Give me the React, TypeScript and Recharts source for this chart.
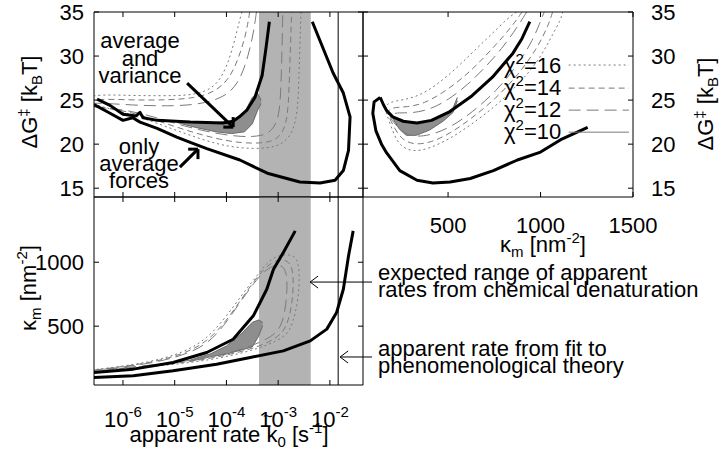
import React from 'react';
import { ComposedChart, Line, Area, XAxis, YAxis, ReferenceArea, ReferenceLine } from 'recharts';

const FONT = '"Liberation Sans", Arimo, Arial, Helvetica, sans-serif';
const W = 720;
const H = 454;

// ---------- axes / ticks ----------
const rateDomain = [-6.56, -1.36]; // log10 of apparent rate
const rateTicks = [-6, -5, -4, -3, -2];
const dGDomain = [14, 35];
const dGTicks = [15, 20, 25, 30, 35];
const kappaDomain = [40, 1500];
const kappaTicks = [500, 1000, 1500];
const kappaLeftDomain = [40, 1510];
const kappaLeftTicks = [500, 1000];
const denatBand = [-3.37, -2.37];
const fitRate = -1.84;

// ---------- top-left: log rate vs dG ----------
const tlAvgVar = [[-6.5, 25.1], [-6.25, 24.4], [-6.0, 23.4], [-5.75, 23.2], [-5.67, 23.6], [-5.61, 23.0], [-5.34, 22.7], [-4.7, 22.5], [-4.07, 22.4], [-3.87, 22.6], [-3.75, 23.1], [-3.6, 23.9], [-3.45, 25.3], [-3.31, 27.8], [-3.24, 30.7], [-3.17, 33.9]];
const tlOnlyAvg = [[-6.56, 24.5], [-6.25, 23.5], [-6.0, 22.7], [-5.81, 23.0], [-5.67, 22.5], [-5.34, 21.8], [-4.96, 20.8], [-4.7, 20.2], [-4.38, 19.5], [-3.74, 18.2], [-3.21, 16.7], [-2.58, 15.7], [-2.19, 15.6], [-1.9, 15.9], [-1.74, 17.0], [-1.64, 19.3], [-1.61, 23.1], [-1.74, 25.8], [-1.94, 28.1], [-2.14, 31.0], [-2.34, 33.9]];
const tlChi16 = [[-3.7, 35], [-3.75, 34.0], [-3.85, 31.5], [-3.98, 29.0], [-4.15, 27.0], [-4.4, 25.9], [-4.8, 25.5], [-5.2, 25.5], [-5.8, 25.5], [-6.7, 25.7], [-6.7, 24.6], [-6.0, 23.7], [-5.4, 22.5], [-4.8, 21.2], [-4.2, 20.0], [-3.7, 19.5], [-3.2, 19.5], [-2.9, 20.0], [-2.7, 21.5], [-2.62, 24.0], [-2.6, 27.5], [-2.58, 31.0], [-2.56, 35]];
const tlChi14 = [[-3.55, 35], [-3.62, 32.5], [-3.75, 30.0], [-3.93, 27.5], [-4.2, 26.0], [-4.6, 25.2], [-5.2, 25.0], [-5.8, 25.0], [-6.7, 25.2], [-6.7, 24.3], [-6.0, 23.9], [-5.4, 22.8], [-4.8, 21.6], [-4.2, 20.6], [-3.7, 20.1], [-3.25, 20.1], [-3.0, 20.6], [-2.85, 22.0], [-2.8, 24.5], [-2.78, 28.0], [-2.76, 31.5], [-2.74, 35]];
const tlChi12 = [[-3.42, 35], [-3.48, 32.5], [-3.58, 30.0], [-3.72, 27.5], [-3.95, 25.6], [-4.4, 24.6], [-5.0, 24.3], [-5.8, 24.4], [-6.7, 24.8], [-6.7, 24.2], [-6.0, 24.0], [-5.4, 23.1], [-4.8, 22.0], [-4.2, 21.2], [-3.7, 20.8], [-3.3, 20.9], [-3.1, 21.6], [-2.98, 23.2], [-2.95, 26.0], [-2.93, 29.5], [-2.91, 35]];
const tlChi10 = [[-4.95, 22.45, 22.6], [-4.6, 21.9, 22.5], [-4.2, 21.4, 22.45], [-3.9, 21.2, 22.6], [-3.65, 21.4, 23.6], [-3.5, 22.3, 25.3], [-3.4, 23.8, 25.8], [-3.33, 24.6, 25.0]];

// ---------- top-right: kappa vs dG ----------
const trAvgVar = [[133, 25.3], [150, 24.5], [168, 23.8], [201, 23.1], [255, 22.6], [332, 22.4], [410, 22.7], [510, 23.7], [630, 25.5], [740, 27.6], [850, 30.3], [900, 32.0], [942, 33.9]];
const trOnlyAvg = [[133, 25.3], [100, 24.8], [93, 23.5], [110, 21.5], [140, 20.0], [168, 19.0], [239, 17.0], [332, 15.9], [418, 15.6], [511, 15.7], [620, 16.1], [745, 17.0], [875, 18.2], [1000, 19.1], [1109, 20.5], [1255, 21.9]];
const trChi16 = [[870, 35], [817, 34.2], [727, 32.3], [636, 30.5], [545, 28.6], [437, 26.7], [346, 25.5], [255, 25.0], [183, 24.8], [158, 24.2], [165, 23.6], [201, 21.4], [237, 19.8], [310, 19.1], [400, 19.5], [509, 20.6], [618, 22.1], [763, 24.4], [890, 27.0], [998, 29.7], [1071, 32.7], [1107, 34.0], [1120, 35]];
const trChi14 = [[900, 35], [850, 33.5], [760, 31.3], [670, 29.3], [580, 27.5], [470, 25.8], [370, 24.6], [280, 24.2], [200, 24.2], [170, 23.7], [178, 23.2], [210, 21.8], [250, 20.5], [320, 19.9], [410, 20.2], [510, 21.2], [620, 22.8], [760, 25.2], [880, 27.9], [980, 30.8], [1045, 33.6], [1065, 35]];
const trChi12 = [[925, 35], [875, 33.3], [790, 30.8], [700, 28.7], [610, 26.8], [500, 25.0], [400, 23.9], [300, 23.5], [220, 23.6], [183, 23.3], [190, 22.9], [220, 22.1], [265, 21.2], [330, 20.8], [420, 21.1], [520, 22.0], [630, 23.6], [760, 26.0], [870, 28.8], [960, 31.8], [1010, 34.5], [1020, 35]];
const trChi10 = [[201, 22.9, 23.1], [237, 21.7, 22.9], [274, 21.0, 22.6], [328, 21.0, 22.4], [400, 21.6, 22.6], [473, 22.6, 23.2], [527, 23.6, 24.1], [550, 24.9, 25.3]];

// ---------- bottom-left: log rate vs kappa ----------
const blAvgVar = [[-6.56, 138], [-5.8, 164], [-5.03, 216], [-4.38, 294], [-3.87, 398], [-3.48, 581], [-3.22, 789], [-3.09, 945], [-2.9, 1076], [-2.67, 1245]];
const blOnlyAvg = [[-6.56, 99], [-5.8, 112], [-5.03, 151], [-4.19, 203], [-3.54, 255], [-2.9, 307], [-2.38, 385], [-2.06, 477], [-1.87, 607], [-1.74, 789], [-1.64, 1049], [-1.55, 1245]];
const blChi16 = [[-6.7, 155], [-6.44, 164], [-5.48, 216], [-4.83, 294], [-4.38, 398], [-3.99, 581], [-3.67, 763], [-3.41, 893], [-3.22, 997], [-3.03, 1049], [-2.83, 1062], [-2.64, 1049], [-2.58, 919], [-2.61, 711], [-2.71, 529], [-2.83, 424], [-3.22, 346], [-3.87, 268], [-4.83, 203], [-6.44, 151], [-6.7, 145]];
const blChi14 = [[-6.7, 152], [-6.44, 162], [-5.48, 210], [-4.83, 282], [-4.38, 375], [-4.0, 540], [-3.7, 720], [-3.45, 860], [-3.25, 960], [-3.05, 1015], [-2.88, 1020], [-2.75, 990], [-2.7, 880], [-2.72, 700], [-2.8, 540], [-2.92, 440], [-3.22, 360], [-3.87, 280], [-4.83, 210], [-6.44, 155], [-6.7, 148]];
const blChi12 = [[-6.7, 150], [-6.44, 160], [-5.48, 205], [-4.83, 272], [-4.38, 355], [-4.05, 500], [-3.75, 680], [-3.5, 820], [-3.3, 920], [-3.1, 975], [-2.95, 980], [-2.85, 940], [-2.82, 830], [-2.85, 660], [-2.92, 520], [-3.05, 440], [-3.3, 380], [-3.87, 292], [-4.83, 218], [-6.44, 158], [-6.7, 152]];
const blChi10 = [[-4.7, 225, 235], [-4.3, 262, 285], [-4.0, 282, 345], [-3.7, 315, 445], [-3.5, 338, 530], [-3.38, 420, 548], [-3.3, 505, 530]];

// ---------- annotations (data coordinates) ----------
const arrowAvgVar = [[-4.76, 26.93], [-3.87, 21.93]];
const arrowAvgVarHead = [[-4.06, 21.93], [-3.87, 23.07]];
const arrowOnlyAvg = [[-4.9, 17.39], [-4.55, 19.43]];
const arrowOnlyAvgHead = [[-4.74, 19.43], [-4.55, 18.3]];
const arrowDenat = [[-2.383, 845], [-1.184, 845]];
const arrowDenatHead = [[-2.228, 892], [-2.228, 798]];
const arrowFit = [[-1.803, 259], [-1.184, 259]];
const arrowFitHead = [[-1.648, 306], [-1.648, 212]];
const chiLevels = ['16', '14', '12', '10'];
const legendKappa = [1152, 1478];
const legendDG = [28.98, 26.36, 23.86, 21.36];
const chiDash = ['2 3', '6 4', '12 6', ''];

const pts = (a: number[][]) => a.map(([x, y]) => ({ x, y }));
const rng = (a: number[][]) => a.map(([x, lo, hi]) => ({ x, r: [lo, hi] }));
const blank = () => '';

const ax = {
  type: 'number' as const,
  allowDataOverflow: true,
  axisLine: { stroke: '#000', strokeWidth: 1 },
  tickLine: { stroke: '#000', strokeWidth: 1 },
  tickSize: -5,
  interval: 0 as const,
};
const tickStyle = { fontSize: 22, fill: '#000', fontFamily: FONT };

const PowTick = (props: any) => {
  const { x, y, payload } = props;
  return (
    <text x={x} y={y + 42} textAnchor="middle" fontFamily={FONT} fontSize={22} fill="#000">
      10<tspan dy={-10} fontSize={15}>{String(payload.value)}</tspan>
    </text>
  );
};

const thick = (data: number[][], key: string, xId: string, yId: string) => (
  <Line key={key} data={pts(data)} dataKey="y" xAxisId={xId} yAxisId={yId} stroke="#000" strokeWidth={3}
    dot={false} activeDot={false} isAnimationActive={false} type="linear" strokeLinejoin="round" />
);
const contour = (data: number[][], key: string, dash: string, xId: string, yId: string) => (
  <Line key={key} data={pts(data)} dataKey="y" xAxisId={xId} yAxisId={yId} stroke="#7a7a7a" strokeWidth={1}
    strokeDasharray={dash} dot={false} activeDot={false} isAnimationActive={false} type="basis" />
);
const blob = (data: number[][], key: string, xId: string, yId: string) => (
  <Area key={key} data={rng(data)} dataKey="r" xAxisId={xId} yAxisId={yId} fill="#8e8e8e" fillOpacity={1}
    stroke="#6a6a6a" strokeWidth={1} dot={false} activeDot={false} isAnimationActive={false} type="linear" />
);
const seg = (a: number[][], key: string, xId: string, yId: string, w: number) => (
  <ReferenceLine key={key} xAxisId={xId} yAxisId={yId} segment={[{ x: a[0][0], y: a[0][1] }, { x: a[1][0], y: a[1][1] }]}
    stroke="#000" strokeWidth={w} ifOverflow="visible" />
);
const head = (tip: number[], h: number[][], key: string, xId: string, yId: string, w: number) => [
  seg([tip, h[0]], key + 'a', xId, yId, w),
  seg([tip, h[1]], key + 'b', xId, yId, w),
];

const layer: React.CSSProperties = { position: 'absolute', left: 0, top: 0 };

// plot rectangles (axes are 1px wide/high, so margins are reduced by 1)
const mTL = { top: 11, right: 356, bottom: 256, left: 93 };
const mTR = { top: 11, right: 86, bottom: 256, left: 362 };
const mBL = { top: 196, right: 356, bottom: 68, left: 93 };

export default function App() {
  return (
    <div style={{ position: 'absolute', left: 0, top: 0, width: W, height: H, background: '#fff', overflow: 'hidden' }}>
      {/* top-left */}
      <div style={layer}>
        <ComposedChart width={W} height={H} margin={mTL}>
          <XAxis xAxisId="b" dataKey="x" domain={rateDomain} ticks={rateTicks} orientation="bottom" height={1} tickFormatter={blank} {...ax} />
          <XAxis xAxisId="t" dataKey="x" domain={rateDomain} ticks={rateTicks} orientation="top" height={1} tickFormatter={blank} {...ax} />
          <YAxis yAxisId="l" domain={dGDomain} ticks={dGTicks} orientation="left" width={1} tickMargin={15} tick={tickStyle} {...ax} />
          <YAxis yAxisId="r" domain={dGDomain} ticks={dGTicks} orientation="right" width={1} tickFormatter={blank} {...ax} />
          <ReferenceArea xAxisId="b" yAxisId="l" x1={denatBand[0]} x2={denatBand[1]} y1={dGDomain[0]} y2={dGDomain[1]} fill="#b3b3b3" fillOpacity={1} stroke="none" />
          {blob(tlChi10, 'tl10', 'b', 'l')}
          {contour(tlChi16, 'tl16', chiDash[0], 'b', 'l')}
          {contour(tlChi14, 'tl14', chiDash[1], 'b', 'l')}
          {contour(tlChi12, 'tl12', chiDash[2], 'b', 'l')}
          <ReferenceLine xAxisId="b" yAxisId="l" x={fitRate} stroke="#000" strokeWidth={1} />
          {thick(tlAvgVar, 'tlA', 'b', 'l')}
          {thick(tlOnlyAvg, 'tlB', 'b', 'l')}
          {seg(arrowAvgVar, 'ar1', 'b', 'l', 3)}
          {head(arrowAvgVar[1], arrowAvgVarHead, 'ar1h', 'b', 'l', 3)}
          {seg(arrowOnlyAvg, 'ar2', 'b', 'l', 3)}
          {head(arrowOnlyAvg[1], arrowOnlyAvgHead, 'ar2h', 'b', 'l', 3)}
        </ComposedChart>
      </div>

      {/* top-right */}
      <div style={layer}>
        <ComposedChart width={W} height={H} margin={mTR}>
          <XAxis xAxisId="b" dataKey="x" domain={kappaDomain} ticks={kappaTicks} orientation="bottom" height={1} tickMargin={25} tick={tickStyle} {...ax} />
          <XAxis xAxisId="t" dataKey="x" domain={kappaDomain} ticks={kappaTicks} orientation="top" height={1} tickFormatter={blank} {...ax} />
          <YAxis yAxisId="l" domain={dGDomain} ticks={dGTicks} orientation="left" width={1} tickFormatter={blank} {...ax} />
          <YAxis yAxisId="r" domain={dGDomain} ticks={dGTicks} orientation="right" width={1} tickMargin={23} tick={tickStyle} {...ax} />
          {blob(trChi10, 'tr10', 'b', 'l')}
          {contour(trChi16, 'tr16', chiDash[0], 'b', 'l')}
          {contour(trChi14, 'tr14', chiDash[1], 'b', 'l')}
          {contour(trChi12, 'tr12', chiDash[2], 'b', 'l')}
          {thick(trAvgVar, 'trA', 'b', 'l')}
          {thick(trOnlyAvg, 'trB', 'b', 'l')}
          {legendDG.map((g, i) => (
            <ReferenceLine key={'lg' + i} xAxisId="b" yAxisId="l"
              segment={[{ x: legendKappa[0], y: g }, { x: legendKappa[1], y: g }]}
              stroke="#7a7a7a" strokeWidth={1} strokeDasharray={chiDash[i]} ifOverflow="visible" />
          ))}
        </ComposedChart>
      </div>

      {/* bottom-left */}
      <div style={layer}>
        <ComposedChart width={W} height={H} margin={mBL}>
          <XAxis xAxisId="b" dataKey="x" domain={rateDomain} ticks={rateTicks} orientation="bottom" height={1} tickMargin={5} tick={<PowTick />} {...ax} />
          <XAxis xAxisId="t" dataKey="x" domain={rateDomain} ticks={rateTicks} orientation="top" height={1} tickFormatter={blank} {...ax} />
          <YAxis yAxisId="l" domain={kappaLeftDomain} ticks={kappaLeftTicks} orientation="left" width={1} tickMargin={15} tick={tickStyle} {...ax} />
          <YAxis yAxisId="r" domain={kappaLeftDomain} ticks={kappaLeftTicks} orientation="right" width={1} tickFormatter={blank} {...ax} />
          <ReferenceArea xAxisId="b" yAxisId="l" x1={denatBand[0]} x2={denatBand[1]} y1={kappaLeftDomain[0]} y2={kappaLeftDomain[1]} fill="#b3b3b3" fillOpacity={1} stroke="none" />
          {blob(blChi10, 'bl10', 'b', 'l')}
          {contour(blChi16, 'bl16', chiDash[0], 'b', 'l')}
          {contour(blChi14, 'bl14', chiDash[1], 'b', 'l')}
          {contour(blChi12, 'bl12', chiDash[2], 'b', 'l')}
          <ReferenceLine xAxisId="b" yAxisId="l" x={fitRate} stroke="#000" strokeWidth={1} />
          {thick(blAvgVar, 'blA', 'b', 'l')}
          {thick(blOnlyAvg, 'blB', 'b', 'l')}
          {seg(arrowDenat, 'ar3', 'b', 'l', 1)}
          {head(arrowDenat[0], arrowDenatHead, 'ar3h', 'b', 'l', 1)}
          {seg(arrowFit, 'ar4', 'b', 'l', 1)}
          {head(arrowFit[0], arrowFitHead, 'ar4h', 'b', 'l', 1)}
        </ComposedChart>
      </div>

      {/* text */}
      <svg width={W} height={H} style={{ ...layer, pointerEvents: 'none' }} fontFamily={FONT} fontSize={22} fill="#000">
        <text transform="translate(37,102) rotate(-90)" textAnchor="middle">
          ΔG<tspan dy={-8} fontSize={15}>‡</tspan><tspan dy={8}> [k</tspan><tspan dy={5} fontSize={15}>B</tspan><tspan dy={-5}>T]</tspan>
        </text>
        <text transform="translate(713,104) rotate(-90)" textAnchor="middle">
          ΔG<tspan dy={-8} fontSize={15}>‡</tspan><tspan dy={8}> [k</tspan><tspan dy={5} fontSize={15}>B</tspan><tspan dy={-5}>T]</tspan>
        </text>
        <text transform="translate(36,288) rotate(-90)" textAnchor="middle">
          κ<tspan dy={5} fontSize={15}>m</tspan><tspan dy={-5}> [nm</tspan><tspan dy={-9} fontSize={15}>-2</tspan><tspan dy={9}>]</tspan>
        </text>
        <text x={543} y={252} textAnchor="middle">
          κ<tspan dy={5} fontSize={15}>m</tspan><tspan dy={-5}> [nm</tspan><tspan dy={-9} fontSize={15}>-2</tspan><tspan dy={9}>]</tspan>
        </text>
        <text x={229} y={442} textAnchor="middle">
          apparent rate k<tspan dy={5} fontSize={15}>0</tspan><tspan dy={-5}> [s</tspan><tspan dy={-9} fontSize={15}>-1</tspan><tspan dy={9}>]</tspan>
        </text>
        <text x={268} y={422} textAnchor="middle" fontSize={17}>~</text>
        <text x={140} y={48} textAnchor="middle">average</text>
        <text x={140} y={66} textAnchor="middle">and</text>
        <text x={140} y={83} textAnchor="middle">variance</text>
        <text x={139} y={154} textAnchor="middle">only</text>
        <text x={139} y={171} textAnchor="middle">average</text>
        <text x={139} y={188} textAnchor="middle">forces</text>
        <text x={378} y={280}>expected range of apparent</text>
        <text x={378} y={297}>rates from chemical denaturation</text>
        <text x={378} y={356}>apparent rate from fit to</text>
        <text x={378} y={373}>phenomenological theory</text>
        {chiLevels.map((c, i) => (
          <text key={c} x={504} y={73 + i * 22}>
            χ<tspan dy={-9} fontSize={15}>2</tspan><tspan dy={9}>={c}</tspan>
          </text>
        ))}
      </svg>
    </div>
  );
}
